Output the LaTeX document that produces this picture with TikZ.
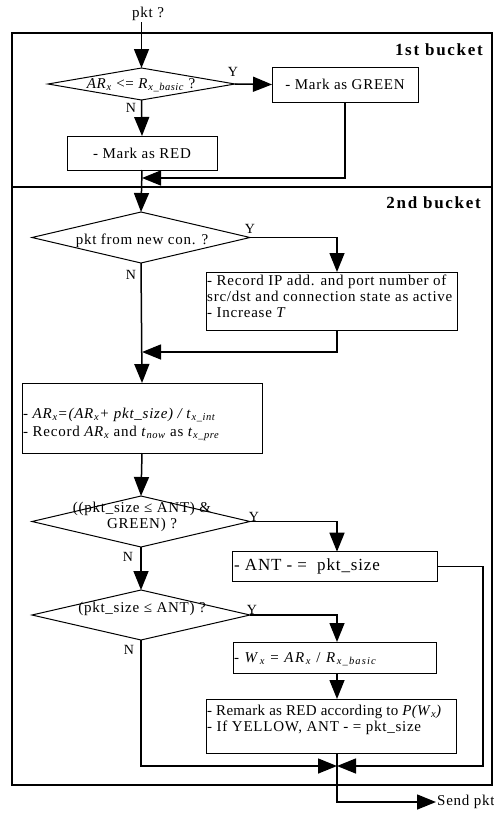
\documentclass[tikz,border=0pt]{standalone}
\usepackage{fontspec}
\setmainfont{Liberation Serif}[LetterSpace=5]
\usetikzlibrary{shapes.geometric,arrows.meta}
\newcommand{\mysub}[1]{\textsubscript{\itshape #1}}
\begin{document}
\begin{tikzpicture}[x=1pt,y=-1pt,
  every node/.style={font=\fontsize{15}{16}\selectfont},
  box/.style={draw,line width=1pt,inner sep=2pt,outer sep=0pt},
  txt/.style={inner sep=1pt,anchor=west,align=left},
  dia/.style={draw,diamond,line width=1pt,inner sep=0pt,outer sep=0pt},
  arr/.style={line width=1.5pt,-{Triangle[length=19pt,width=15pt]}},
  frame/.style={draw,line width=1.5pt,inner sep=0pt,outer sep=0pt},
  yn/.style={font=\fontsize{14}{15}\selectfont,inner sep=0pt},
  bk/.style={font=\fontsize{17}{18}\selectfont\bfseries\addfontfeatures{LetterSpace=10},anchor=east,inner sep=0pt}]
\useasboundingbox (0,0) rectangle (494,814);
% buckets
\node[frame,minimum width=480pt,minimum height=154pt] (b1) at (252,110) {};
\node[frame,minimum width=480pt,minimum height=598pt] (b2) at (252,486) {};
\node[bk] (l1) at (483,50) {1st bucket};
\node[bk] (l2) at (481,203) {2nd bucket};
% column coordinates
\coordinate (cR) at (337,0);
\coordinate (cE) at (483,0);
\coordinate (j1) at (142,178);
\coordinate (j2) at (142,352);
\coordinate (j3) at (337,766);
% nodes
\node[inner sep=1pt] (pkt) at (148,14) {pkt ?};
\node[dia,minimum width=187pt,minimum height=32pt] (d1) at (141.5,84) {};
\node[inner sep=0pt] (t1) at (141,85) {\textit{AR}\mysub{x} <= \textit{R}\mysub{x\_basic} ?};
\node[box,minimum width=146pt,minimum height=35pt] (g) at (345,84.5) {- Mark as GREEN};
\node[box,minimum width=150pt,minimum height=34pt] (r) at (142,153) {- Mark as RED};
\node[dia,minimum width=218pt,minimum height=51pt] (d2) at (141,237.5) {};
\node[inner sep=0pt] (t2) at (142,241) {pkt from new con. ?};
\node[box,minimum width=251pt,minimum height=58pt] (rec) at (331.5,301) {};
\node[txt] (trec) at (206,296)
  {- Record IP add. and port number of\\src/dst and connection state as active\\- Increase \textit{T}};
\node[box,minimum width=240pt,minimum height=70pt] (calc) at (142,418) {};
\node[txt] (tcalc) at (22,424)
  {- \textit{AR}\mysub{x}\textit{=(AR}\mysub{x}\textit{+ pkt\_size) / t}\mysub{x\_int}\\[2pt]- Record \textit{AR}\mysub{x} and \textit{t}\mysub{now} as \textit{t}\mysub{x\_pre}};
\node[dia,minimum width=218pt,minimum height=51pt] (d3) at (141,521.5) {};
\node[inner sep=0pt,align=center] (t3) at (142,517) {((pkt\_size ≤ ANT) \&\\GREEN) ?};
\node[box,minimum width=205pt,minimum height=30pt] (ant) at (334.5,566.7) {};
\node[txt,font=\fontsize{17}{18}\selectfont] (tant) at (233,566.7) {- ANT - =~ pkt\_size};
\node[dia,minimum width=218pt,minimum height=50pt] (d4) at (141,615) {};
\node[inner sep=0pt] (t4) at (142,609) {(pkt\_size ≤ ANT) ?};
\node[box,minimum width=203pt,minimum height=31pt] (wb) at (334.5,657.5) {};
\node[txt,font=\fontsize{15}{16}\selectfont\addfontfeatures{LetterSpace=11}] (twb) at (233,659) {- \textit{W}\mysub{x} = \textit{AR}\mysub{x} / \textit{R}\mysub{x\_basic}};
\node[box,minimum width=250pt,minimum height=54pt] (rem) at (331,726) {};
\node[txt] (trem) at (206,720)
  {{\addfontfeatures{LetterSpace=2}- Remark as RED according to \textit{P(W}\mysub{x}\textit{)}}\\- If YELLOW, ANT - = pkt\_size};
\node[inner sep=1pt,anchor=west] (send) at (436,802) {Send pkt};
% labels
\node[yn] (y1) at (233,72) {Y};
\node[yn] (n1) at (131,108) {N};
\node[yn] (y2) at (250,229) {Y};
\node[yn] (n2) at (131,275) {N};
\node[yn] (y3) at (254,517) {Y};
\node[yn] (n3) at (128,557) {N};
\node[yn] (y4) at (252,610) {Y};
\node[yn] (n4) at (129,650) {N};
% connectors
\draw[arr] (pkt.south -| d1.north) -- (d1.north);
\draw[arr] (d1.east) -- (g.west);
\draw[arr] (d1.south) -- (r.north);
\draw[arr] (g.south) |- (j1);
\draw[arr] (r.south) -- (d2.north);
\draw[arr] (d2.east) -| (rec.north -| cR);
\draw[arr] (rec.south -| cR) |- (j2);
\draw[arr] (d2.south) -- (calc.north);
\draw[arr] (calc.south) -- (d3.north);
\draw[arr] (d3.east) -| (ant.north -| cR);
\draw[arr] (ant.east) -| (cE |- j3) -- (j3);
\draw[arr] (d3.south) -- (d4.north);
\draw[arr] (d4.east) -| (wb.north -| cR);
\draw[arr] (wb.south -| cR) -- (rem.north -| cR);
\draw[arr] (d4.south) |- (j3);
\draw[arr] (rem.south -| cR) |- (send.west);
\end{tikzpicture}
\end{document}
